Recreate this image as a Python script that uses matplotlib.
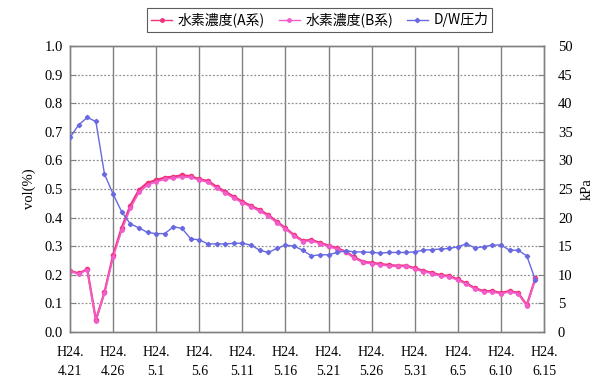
import matplotlib
matplotlib.use("Agg")
import matplotlib.pyplot as plt
from matplotlib.lines import Line2D

# Daily readings, starting H24.4.21 (day 0)
h2_a = [0.214, 0.205, 0.219, 0.042, 0.139, 0.269, 0.365, 0.442, 0.497, 0.522,
        0.531, 0.540, 0.543, 0.548, 0.545, 0.534, 0.528, 0.508, 0.491, 0.473,
        0.456, 0.441, 0.427, 0.409, 0.386, 0.363, 0.339, 0.319, 0.322, 0.312,
        0.302, 0.293, 0.281, 0.261, 0.246, 0.242, 0.238, 0.234, 0.232, 0.232,
        0.223, 0.214, 0.207, 0.199, 0.196, 0.184, 0.170, 0.153, 0.143, 0.143,
        0.137, 0.143, 0.137, 0.094, 0.188]
h2_b = [0.212, 0.203, 0.217, 0.040, 0.136, 0.262, 0.356, 0.432, 0.488, 0.514,
        0.525, 0.534, 0.538, 0.542, 0.541, 0.531, 0.524, 0.503, 0.486, 0.468,
        0.452, 0.437, 0.423, 0.405, 0.382, 0.360, 0.336, 0.316, 0.319, 0.309,
        0.299, 0.290, 0.278, 0.258, 0.243, 0.239, 0.235, 0.231, 0.229, 0.229,
        0.220, 0.211, 0.204, 0.196, 0.193, 0.181, 0.167, 0.150, 0.140, 0.140,
        0.134, 0.140, 0.134, 0.091, 0.185]
dw_kpa = [34.0, 36.2, 37.5, 36.8, 27.6, 24.1, 21.0, 18.9, 18.2, 17.4,
          17.2, 17.2, 18.4, 18.1, 16.3, 16.1, 15.4, 15.4, 15.4, 15.5,
          15.5, 15.2, 14.3, 13.9, 14.6, 15.2, 15.0, 14.3, 13.3, 13.5,
          13.5, 13.9, 14.2, 14.0, 14.0, 13.9, 13.8, 13.9, 13.9, 13.9,
          14.0, 14.3, 14.4, 14.5, 14.6, 14.9, 15.4, 14.7, 14.9, 15.2,
          15.2, 14.3, 14.3, 13.3, 9.1]
tick_dates = ["4.21", "4.26", "5.1", "5.6", "5.11", "5.16",
              "5.21", "5.26", "5.31", "6.5", "6.10", "6.15"]
series_names = ["水素濃度(A系)", "水素濃度(B系)", "D/W圧力"]

serif = ["Liberation Serif", "DejaVu Serif"]
jp = ["Noto Sans CJK JP", "DejaVu Sans"]

days = list(range(len(h2_a)))
tick_pos = [i * 5 for i in range(len(tick_dates))]
tick_labels = ["H24.\n" + d for d in tick_dates]

col_a = "#f0327a"
col_b = "#f25ccb"
col_dw = "#6868e0"

fig = plt.figure(figsize=(6.0, 3.83), dpi=100)
ax = fig.add_axes([0.1167, 0.1332, 0.79, 0.7468])
ax2 = ax.twinx()

ax.plot(days, h2_a, color=col_a, lw=1.6, marker="o", ms=3.0, zorder=3)
ax.plot(days, h2_b, color=col_b, lw=1.2, marker="o", ms=2.4, zorder=4)
ax2.plot(days, dw_kpa, color=col_dw, lw=1.0, marker="D", ms=2.2, zorder=3)

ax.set_xlim(0, 55)
ax.set_ylim(0, 1.0)
ax2.set_ylim(0, 50)

ax.set_yticks([i / 10 for i in range(11)])
ax.set_yticklabels([f"{i / 10:.1f}" for i in range(11)], fontfamily=serif, fontsize=10.5)
ax2.set_yticks(range(0, 51, 5))
ax2.set_yticklabels([str(v) for v in range(0, 51, 5)], fontfamily=serif, fontsize=10.5)
ax.set_xticks(tick_pos)
ax.set_xticklabels(tick_labels, fontfamily=serif, fontsize=10, linespacing=1.6)

ax.set_ylabel("vol(%)", fontfamily=serif, fontsize=10.5, labelpad=6)
ax2.set_ylabel("kPa", fontfamily=serif, fontsize=10.5, labelpad=6, rotation=90)

# grid: solid verticals, dotted horizontals
for x in tick_pos[1:-1]:
    ax.axvline(x, color="#808080", lw=1.0, zorder=1)
for y in [i / 10 for i in range(1, 10)]:
    ax.axhline(y, color="#909090", lw=0.9, ls=(0, (1.5, 1.5)), zorder=1)

for a in (ax, ax2):
    for s in a.spines.values():
        s.set_color("#808080")
        s.set_linewidth(1.0)
ax.tick_params(axis="both", direction="in", length=4, color="#808080", pad=5)
ax.tick_params(axis="x", length=0, pad=10)
ax2.tick_params(axis="y", direction="in", length=4, color="#808080", pad=10)

handles = [
    Line2D([], [], color=col_a, lw=1.0, marker="o", ms=2.5),
    Line2D([], [], color=col_b, lw=1.0, marker="o", ms=2.5),
    Line2D([], [], color=col_dw, lw=1.0, marker="D", ms=2.2),
]
leg = fig.legend(handles, series_names, loc="center", bbox_to_anchor=(0.533, 0.948),
                 ncol=3, prop={"family": jp, "size": 10}, frameon=True, fancybox=False,
                 edgecolor="#333333", handlelength=1.5, handletextpad=0.4,
                 columnspacing=1.0, borderpad=0.3)
leg.get_frame().set_linewidth(0.8)

fig.savefig("out.png", dpi=100, facecolor="white")
